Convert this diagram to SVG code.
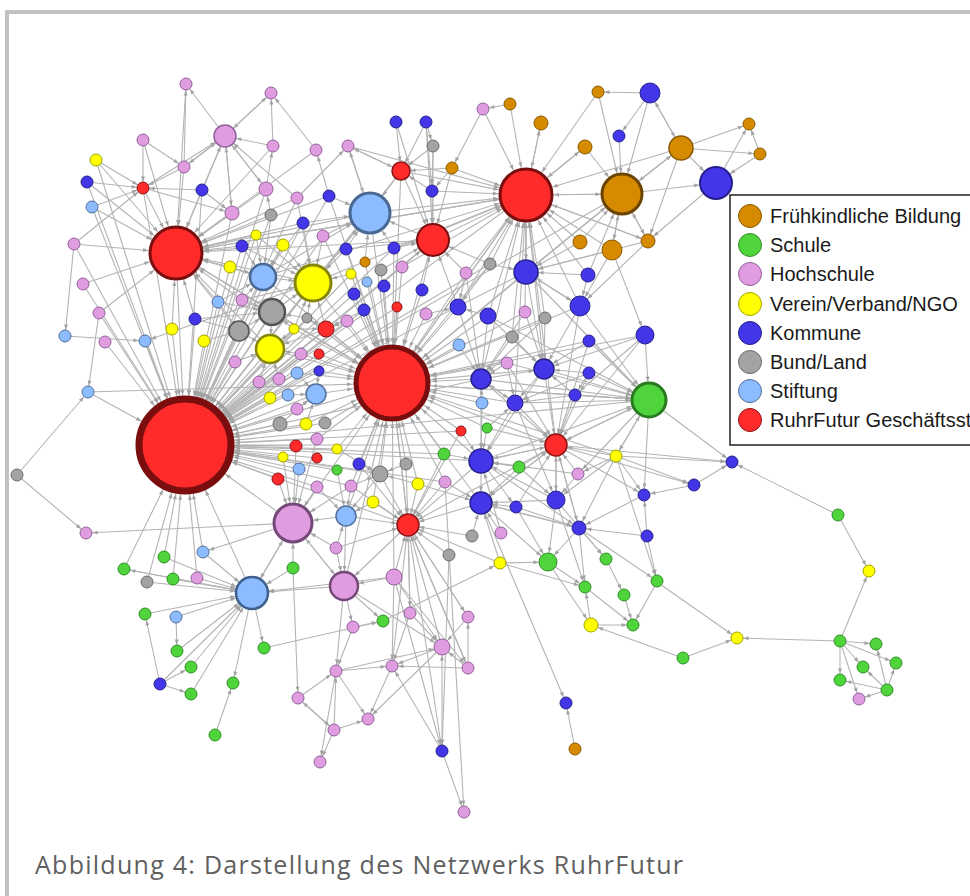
<svg xmlns="http://www.w3.org/2000/svg" width="970" height="896" viewBox="0 0 970 896">
<style>
#connectors line{stroke:#b4b4b4;stroke-width:1.1}
marker path{fill:#a2a2a2}
.r{fill:#ff2b2b;stroke:#8c1414;stroke-width:1}
.o{fill:#d68a00;stroke:#8a5800;stroke-width:1}
.g{fill:#4fd43c;stroke:#2f8f26;stroke-width:1}
.p{fill:#e09ce0;stroke:#93609a;stroke-width:1}
.y{fill:#ffff00;stroke:#a3a300;stroke-width:1}
.b{fill:#4236e8;stroke:#25208c;stroke-width:1}
.k{fill:#a3a3a3;stroke:#6c6c6c;stroke-width:1}
.l{fill:#8cbcff;stroke:#52709c;stroke-width:1}
.lt{font-family:"Liberation Sans",Arial,sans-serif;font-size:20px;fill:#1a1a1a}
</style>
<defs>
<marker id="t5" markerUnits="userSpaceOnUse" orient="auto" markerWidth="6" markerHeight="6" refX="10.5" refY="0" overflow="visible"><path d="M0-2L5 0L0 2z"/></marker>
<marker id="t6" markerUnits="userSpaceOnUse" orient="auto" markerWidth="6" markerHeight="6" refX="11.5" refY="0" overflow="visible"><path d="M0-2L5 0L0 2z"/></marker>
<marker id="t7" markerUnits="userSpaceOnUse" orient="auto" markerWidth="6" markerHeight="6" refX="12.5" refY="0" overflow="visible"><path d="M0-2L5 0L0 2z"/></marker>
<marker id="t8" markerUnits="userSpaceOnUse" orient="auto" markerWidth="6" markerHeight="6" refX="13.5" refY="0" overflow="visible"><path d="M0-2L5 0L0 2z"/></marker>
<marker id="t9" markerUnits="userSpaceOnUse" orient="auto" markerWidth="6" markerHeight="6" refX="14.5" refY="0" overflow="visible"><path d="M0-2L5 0L0 2z"/></marker>
<marker id="t10" markerUnits="userSpaceOnUse" orient="auto" markerWidth="6" markerHeight="6" refX="15.5" refY="0" overflow="visible"><path d="M0-2L5 0L0 2z"/></marker>
<marker id="t11" markerUnits="userSpaceOnUse" orient="auto" markerWidth="6" markerHeight="6" refX="16.5" refY="0" overflow="visible"><path d="M0-2L5 0L0 2z"/></marker>
<marker id="t12" markerUnits="userSpaceOnUse" orient="auto" markerWidth="6" markerHeight="6" refX="17.5" refY="0" overflow="visible"><path d="M0-2L5 0L0 2z"/></marker>
<marker id="t13" markerUnits="userSpaceOnUse" orient="auto" markerWidth="6" markerHeight="6" refX="19" refY="0" overflow="visible"><path d="M0-2L5 0L0 2z"/></marker>
<marker id="t14" markerUnits="userSpaceOnUse" orient="auto" markerWidth="6" markerHeight="6" refX="20" refY="0" overflow="visible"><path d="M0-2L5 0L0 2z"/></marker>
<marker id="t16" markerUnits="userSpaceOnUse" orient="auto" markerWidth="6" markerHeight="6" refX="22" refY="0" overflow="visible"><path d="M0-2L5 0L0 2z"/></marker>
<marker id="t17" markerUnits="userSpaceOnUse" orient="auto" markerWidth="6" markerHeight="6" refX="23.5" refY="0" overflow="visible"><path d="M0-2L5 0L0 2z"/></marker>
<marker id="t18" markerUnits="userSpaceOnUse" orient="auto" markerWidth="6" markerHeight="6" refX="24.5" refY="0" overflow="visible"><path d="M0-2L5 0L0 2z"/></marker>
<marker id="t19" markerUnits="userSpaceOnUse" orient="auto" markerWidth="6" markerHeight="6" refX="25.5" refY="0" overflow="visible"><path d="M0-2L5 0L0 2z"/></marker>
<marker id="t20" markerUnits="userSpaceOnUse" orient="auto" markerWidth="6" markerHeight="6" refX="26.5" refY="0" overflow="visible"><path d="M0-2L5 0L0 2z"/></marker>
<marker id="t26" markerUnits="userSpaceOnUse" orient="auto" markerWidth="6" markerHeight="6" refX="33" refY="0" overflow="visible"><path d="M0-2L5 0L0 2z"/></marker>
<marker id="t37" markerUnits="userSpaceOnUse" orient="auto" markerWidth="6" markerHeight="6" refX="45" refY="0" overflow="visible"><path d="M0-2L5 0L0 2z"/></marker>
<marker id="t47" markerUnits="userSpaceOnUse" orient="auto" markerWidth="6" markerHeight="6" refX="55" refY="0" overflow="visible"><path d="M0-2L5 0L0 2z"/></marker>
</defs>
<rect x="7" y="12" width="1000" height="1000" fill="#ffffff" stroke="#c2c2c2" stroke-width="4"/>

<g id="connectors">
<g style="marker-end:url(#t47)">
<line x1="99" y1="313" x2="185" y2="445"/><line x1="105" y1="342" x2="185" y2="445"/><line x1="145" y1="341" x2="185" y2="445"/><line x1="88" y1="392" x2="185" y2="445"/><line x1="172" y1="329" x2="185" y2="445"/><line x1="204" y1="341" x2="185" y2="445"/><line x1="195" y1="319" x2="185" y2="445"/><line x1="239" y1="331" x2="185" y2="445"/><line x1="235" y1="362" x2="185" y2="445"/><line x1="83" y1="284" x2="185" y2="445"/><line x1="218" y1="302" x2="185" y2="445"/><line x1="242" y1="300" x2="185" y2="445"/><line x1="176" y1="253" x2="185" y2="445"/><line x1="242" y1="246" x2="185" y2="445"/><line x1="230" y1="267" x2="185" y2="445"/><line x1="232" y1="213" x2="185" y2="445"/><line x1="202" y1="190" x2="185" y2="445"/><line x1="143" y1="188" x2="185" y2="445"/><line x1="96" y1="160" x2="185" y2="445"/><line x1="87" y1="182" x2="185" y2="445"/><line x1="92" y1="207" x2="185" y2="445"/><line x1="74" y1="244" x2="185" y2="445"/><line x1="263" y1="277" x2="185" y2="445"/><line x1="272" y1="312" x2="185" y2="445"/><line x1="270" y1="349" x2="185" y2="445"/><line x1="294" y1="329" x2="185" y2="445"/><line x1="326" y1="329" x2="185" y2="445"/><line x1="297" y1="373" x2="185" y2="445"/><line x1="288" y1="395" x2="185" y2="445"/><line x1="259" y1="382" x2="185" y2="445"/><line x1="279" y1="379" x2="185" y2="445"/><line x1="270" y1="398" x2="185" y2="445"/><line x1="280" y1="424" x2="185" y2="445"/><line x1="296" y1="446" x2="185" y2="445"/><line x1="283" y1="457" x2="185" y2="445"/><line x1="278" y1="479" x2="185" y2="445"/><line x1="297" y1="409" x2="185" y2="445"/><line x1="301" y1="354" x2="185" y2="445"/><line x1="316" y1="394" x2="185" y2="445"/><line x1="313" y1="283" x2="185" y2="445"/><line x1="392" y1="383" x2="185" y2="445"/><line x1="433" y1="240" x2="185" y2="445"/><line x1="526" y1="195" x2="185" y2="445"/><line x1="401" y1="171" x2="185" y2="445"/><line x1="370" y1="213" x2="185" y2="445"/><line x1="329" y1="196" x2="185" y2="445"/><line x1="303" y1="223" x2="185" y2="445"/><line x1="256" y1="235" x2="185" y2="445"/><line x1="283" y1="245" x2="185" y2="445"/><line x1="271" y1="215" x2="185" y2="445"/><line x1="266" y1="189" x2="185" y2="445"/><line x1="297" y1="198" x2="185" y2="445"/><line x1="164" y1="557" x2="185" y2="445"/><line x1="124" y1="569" x2="185" y2="445"/><line x1="173" y1="579" x2="185" y2="445"/><line x1="197" y1="578" x2="185" y2="445"/><line x1="203" y1="552" x2="185" y2="445"/><line x1="252" y1="593" x2="185" y2="445"/><line x1="147" y1="582" x2="185" y2="445"/><line x1="293" y1="523" x2="185" y2="445"/><line x1="317" y1="487" x2="185" y2="445"/><line x1="306" y1="424" x2="185" y2="445"/><line x1="317" y1="458" x2="185" y2="445"/><line x1="299" y1="469" x2="185" y2="445"/><line x1="325" y1="423" x2="185" y2="445"/><line x1="317" y1="439" x2="185" y2="445"/><line x1="319" y1="371" x2="185" y2="445"/><line x1="319" y1="354" x2="185" y2="445"/><line x1="337" y1="449" x2="185" y2="445"/><line x1="337" y1="470" x2="185" y2="445"/><line x1="556" y1="445" x2="185" y2="445"/><line x1="481" y1="379" x2="185" y2="445"/><line x1="461" y1="431" x2="185" y2="445"/><line x1="380" y1="474" x2="185" y2="445"/><line x1="408" y1="525" x2="185" y2="445"/><line x1="622" y1="194" x2="185" y2="445"/><line x1="526" y1="272" x2="185" y2="445"/><line x1="490" y1="264" x2="185" y2="445"/><line x1="402" y1="267" x2="185" y2="445"/><line x1="351" y1="274" x2="185" y2="445"/><line x1="354" y1="294" x2="185" y2="445"/><line x1="364" y1="310" x2="185" y2="445"/><line x1="347" y1="321" x2="185" y2="445"/><line x1="307" y1="318" x2="185" y2="445"/><line x1="397" y1="307" x2="185" y2="445"/><line x1="394" y1="248" x2="185" y2="445"/><line x1="323" y1="236" x2="185" y2="445"/><line x1="481" y1="461" x2="185" y2="445"/><line x1="649" y1="400" x2="185" y2="445"/><line x1="444" y1="454" x2="185" y2="445"/><line x1="351" y1="486" x2="185" y2="445"/><line x1="445" y1="482" x2="185" y2="445"/>
</g>
<g style="marker-end:url(#t37)">
<line x1="370" y1="213" x2="392" y2="383"/><line x1="433" y1="240" x2="392" y2="383"/><line x1="401" y1="171" x2="392" y2="383"/><line x1="526" y1="195" x2="392" y2="383"/><line x1="394" y1="248" x2="392" y2="383"/><line x1="381" y1="270" x2="392" y2="383"/><line x1="402" y1="267" x2="392" y2="383"/><line x1="384" y1="286" x2="392" y2="383"/><line x1="422" y1="290" x2="392" y2="383"/><line x1="397" y1="307" x2="392" y2="383"/><line x1="426" y1="314" x2="392" y2="383"/><line x1="364" y1="310" x2="392" y2="383"/><line x1="354" y1="294" x2="392" y2="383"/><line x1="367" y1="282" x2="392" y2="383"/><line x1="351" y1="274" x2="392" y2="383"/><line x1="365" y1="262" x2="392" y2="383"/><line x1="346" y1="249" x2="392" y2="383"/><line x1="313" y1="283" x2="392" y2="383"/><line x1="326" y1="329" x2="392" y2="383"/><line x1="347" y1="321" x2="392" y2="383"/><line x1="307" y1="318" x2="392" y2="383"/><line x1="263" y1="277" x2="392" y2="383"/><line x1="272" y1="312" x2="392" y2="383"/><line x1="270" y1="349" x2="392" y2="383"/><line x1="458" y1="307" x2="392" y2="383"/><line x1="488" y1="316" x2="392" y2="383"/><line x1="526" y1="272" x2="392" y2="383"/><line x1="490" y1="264" x2="392" y2="383"/><line x1="466" y1="273" x2="392" y2="383"/><line x1="459" y1="345" x2="392" y2="383"/><line x1="481" y1="379" x2="392" y2="383"/><line x1="482" y1="403" x2="392" y2="383"/><line x1="544" y1="369" x2="392" y2="383"/><line x1="556" y1="445" x2="392" y2="383"/><line x1="461" y1="431" x2="392" y2="383"/><line x1="487" y1="428" x2="392" y2="383"/><line x1="444" y1="454" x2="392" y2="383"/><line x1="481" y1="461" x2="392" y2="383"/><line x1="406" y1="464" x2="392" y2="383"/><line x1="380" y1="474" x2="392" y2="383"/><line x1="418" y1="484" x2="392" y2="383"/><line x1="445" y1="482" x2="392" y2="383"/><line x1="408" y1="525" x2="392" y2="383"/><line x1="373" y1="502" x2="392" y2="383"/><line x1="351" y1="486" x2="392" y2="383"/><line x1="359" y1="464" x2="392" y2="383"/><line x1="337" y1="449" x2="392" y2="383"/><line x1="325" y1="423" x2="392" y2="383"/><line x1="316" y1="394" x2="392" y2="383"/><line x1="319" y1="371" x2="392" y2="383"/><line x1="301" y1="354" x2="392" y2="383"/><line x1="319" y1="354" x2="392" y2="383"/><line x1="346" y1="516" x2="392" y2="383"/><line x1="293" y1="523" x2="392" y2="383"/><line x1="344" y1="586" x2="392" y2="383"/><line x1="394" y1="577" x2="392" y2="383"/><line x1="649" y1="400" x2="392" y2="383"/><line x1="580" y1="306" x2="392" y2="383"/><line x1="622" y1="194" x2="392" y2="383"/><line x1="525" y1="312" x2="392" y2="383"/><line x1="545" y1="318" x2="392" y2="383"/><line x1="515" y1="403" x2="392" y2="383"/><line x1="481" y1="503" x2="392" y2="383"/><line x1="294" y1="329" x2="392" y2="383"/><line x1="297" y1="373" x2="392" y2="383"/><line x1="88" y1="392" x2="392" y2="383"/><line x1="176" y1="253" x2="392" y2="383"/><line x1="323" y1="236" x2="392" y2="383"/><line x1="329" y1="196" x2="392" y2="383"/><line x1="507" y1="363" x2="392" y2="383"/><line x1="589" y1="341" x2="392" y2="383"/><line x1="645" y1="335" x2="392" y2="383"/><line x1="616" y1="456" x2="392" y2="383"/><line x1="317" y1="439" x2="392" y2="383"/><line x1="306" y1="424" x2="392" y2="383"/>
</g>
<g style="marker-end:url(#t26)">
<line x1="225" y1="136" x2="176" y2="253"/><line x1="186" y1="84" x2="176" y2="253"/><line x1="143" y1="140" x2="176" y2="253"/><line x1="184" y1="167" x2="176" y2="253"/><line x1="96" y1="160" x2="176" y2="253"/><line x1="87" y1="182" x2="176" y2="253"/><line x1="143" y1="188" x2="176" y2="253"/><line x1="92" y1="207" x2="176" y2="253"/><line x1="202" y1="190" x2="176" y2="253"/><line x1="232" y1="213" x2="176" y2="253"/><line x1="74" y1="244" x2="176" y2="253"/><line x1="83" y1="284" x2="176" y2="253"/><line x1="266" y1="189" x2="176" y2="253"/><line x1="271" y1="215" x2="176" y2="253"/><line x1="256" y1="235" x2="176" y2="253"/><line x1="242" y1="246" x2="176" y2="253"/><line x1="230" y1="267" x2="176" y2="253"/><line x1="263" y1="277" x2="176" y2="253"/><line x1="283" y1="245" x2="176" y2="253"/><line x1="273" y1="146" x2="176" y2="253"/><line x1="297" y1="198" x2="176" y2="253"/><line x1="303" y1="223" x2="176" y2="253"/><line x1="313" y1="283" x2="176" y2="253"/><line x1="242" y1="300" x2="176" y2="253"/><line x1="218" y1="302" x2="176" y2="253"/><line x1="195" y1="319" x2="176" y2="253"/><line x1="172" y1="329" x2="176" y2="253"/><line x1="99" y1="313" x2="176" y2="253"/><line x1="370" y1="213" x2="176" y2="253"/><line x1="433" y1="240" x2="176" y2="253"/><line x1="526" y1="195" x2="176" y2="253"/><line x1="270" y1="349" x2="176" y2="253"/><line x1="239" y1="331" x2="176" y2="253"/><line x1="329" y1="196" x2="176" y2="253"/><line x1="316" y1="150" x2="176" y2="253"/><line x1="272" y1="312" x2="176" y2="253"/>
</g>
<g style="marker-end:url(#t26)">
<line x1="510" y1="104" x2="526" y2="195"/><line x1="541" y1="123" x2="526" y2="195"/><line x1="598" y1="92" x2="526" y2="195"/><line x1="483" y1="109" x2="526" y2="195"/><line x1="585" y1="147" x2="526" y2="195"/><line x1="622" y1="194" x2="526" y2="195"/><line x1="452" y1="168" x2="526" y2="195"/><line x1="433" y1="240" x2="526" y2="195"/><line x1="401" y1="171" x2="526" y2="195"/><line x1="370" y1="213" x2="526" y2="195"/><line x1="526" y1="272" x2="526" y2="195"/><line x1="490" y1="264" x2="526" y2="195"/><line x1="466" y1="273" x2="526" y2="195"/><line x1="588" y1="275" x2="526" y2="195"/><line x1="612" y1="250" x2="526" y2="195"/><line x1="580" y1="242" x2="526" y2="195"/><line x1="648" y1="241" x2="526" y2="195"/><line x1="458" y1="307" x2="526" y2="195"/><line x1="488" y1="316" x2="526" y2="195"/><line x1="402" y1="267" x2="526" y2="195"/><line x1="394" y1="248" x2="526" y2="195"/><line x1="313" y1="283" x2="526" y2="195"/><line x1="263" y1="277" x2="526" y2="195"/><line x1="176" y1="253" x2="526" y2="195"/><line x1="580" y1="306" x2="526" y2="195"/><line x1="525" y1="312" x2="526" y2="195"/><line x1="545" y1="318" x2="526" y2="195"/><line x1="544" y1="369" x2="526" y2="195"/><line x1="556" y1="445" x2="526" y2="195"/><line x1="515" y1="403" x2="526" y2="195"/><line x1="681" y1="148" x2="526" y2="195"/><line x1="512" y1="337" x2="526" y2="195"/><line x1="481" y1="379" x2="526" y2="195"/><line x1="432" y1="191" x2="526" y2="195"/><line x1="348" y1="146" x2="526" y2="195"/><line x1="392" y1="383" x2="526" y2="195"/>
</g>
<g style="marker-end:url(#t20)">
<line x1="650" y1="93" x2="622" y2="194"/><line x1="619" y1="136" x2="622" y2="194"/><line x1="681" y1="148" x2="622" y2="194"/><line x1="612" y1="250" x2="622" y2="194"/><line x1="648" y1="241" x2="622" y2="194"/><line x1="526" y1="195" x2="622" y2="194"/><line x1="585" y1="147" x2="622" y2="194"/><line x1="580" y1="242" x2="622" y2="194"/><line x1="588" y1="275" x2="622" y2="194"/><line x1="526" y1="272" x2="622" y2="194"/><line x1="598" y1="92" x2="622" y2="194"/>
<line x1="329" y1="196" x2="370" y2="213"/><line x1="303" y1="223" x2="370" y2="213"/><line x1="323" y1="236" x2="370" y2="213"/><line x1="346" y1="249" x2="370" y2="213"/><line x1="348" y1="146" x2="370" y2="213"/><line x1="401" y1="171" x2="370" y2="213"/><line x1="394" y1="248" x2="370" y2="213"/><line x1="433" y1="240" x2="370" y2="213"/><line x1="313" y1="283" x2="370" y2="213"/><line x1="263" y1="277" x2="370" y2="213"/><line x1="365" y1="262" x2="370" y2="213"/>
</g>
<g style="marker-end:url(#t19)">
<line x1="317" y1="487" x2="293" y2="523"/><line x1="278" y1="479" x2="293" y2="523"/><line x1="299" y1="469" x2="293" y2="523"/><line x1="336" y1="548" x2="293" y2="523"/><line x1="346" y1="516" x2="293" y2="523"/><line x1="293" y1="568" x2="293" y2="523"/><line x1="283" y1="457" x2="293" y2="523"/><line x1="252" y1="593" x2="293" y2="523"/><line x1="344" y1="586" x2="293" y2="523"/><line x1="317" y1="439" x2="293" y2="523"/><line x1="296" y1="446" x2="293" y2="523"/><line x1="351" y1="486" x2="293" y2="523"/>
</g>
<g style="marker-end:url(#t18)">
<line x1="323" y1="236" x2="313" y2="283"/><line x1="283" y1="245" x2="313" y2="283"/><line x1="263" y1="277" x2="313" y2="283"/><line x1="303" y1="223" x2="313" y2="283"/><line x1="297" y1="198" x2="313" y2="283"/><line x1="256" y1="235" x2="313" y2="283"/><line x1="242" y1="246" x2="313" y2="283"/><line x1="272" y1="312" x2="313" y2="283"/><line x1="307" y1="318" x2="313" y2="283"/><line x1="294" y1="329" x2="313" y2="283"/><line x1="326" y1="329" x2="313" y2="283"/><line x1="351" y1="274" x2="313" y2="283"/><line x1="346" y1="249" x2="313" y2="283"/><line x1="242" y1="300" x2="313" y2="283"/>
</g>
<g style="marker-end:url(#t17)">
<line x1="645" y1="335" x2="649" y2="400"/><line x1="556" y1="445" x2="649" y2="400"/><line x1="544" y1="369" x2="649" y2="400"/><line x1="481" y1="379" x2="649" y2="400"/><line x1="616" y1="456" x2="649" y2="400"/><line x1="515" y1="403" x2="649" y2="400"/><line x1="589" y1="373" x2="649" y2="400"/><line x1="575" y1="395" x2="649" y2="400"/><line x1="589" y1="341" x2="649" y2="400"/><line x1="488" y1="316" x2="649" y2="400"/><line x1="507" y1="363" x2="649" y2="400"/><line x1="526" y1="272" x2="649" y2="400"/><line x1="580" y1="306" x2="649" y2="400"/><line x1="392" y1="383" x2="649" y2="400"/><line x1="481" y1="461" x2="649" y2="400"/>
</g>
<g style="marker-end:url(#t16)">
<line x1="622" y1="194" x2="716" y2="183"/><line x1="681" y1="148" x2="716" y2="183"/><line x1="760" y1="154" x2="716" y2="183"/>
<line x1="401" y1="171" x2="433" y2="240"/><line x1="432" y1="191" x2="433" y2="240"/><line x1="433" y1="146" x2="433" y2="240"/><line x1="396" y1="122" x2="433" y2="240"/><line x1="426" y1="122" x2="433" y2="240"/><line x1="452" y1="168" x2="433" y2="240"/><line x1="394" y1="248" x2="433" y2="240"/><line x1="402" y1="267" x2="433" y2="240"/><line x1="422" y1="290" x2="433" y2="240"/><line x1="466" y1="273" x2="433" y2="240"/><line x1="490" y1="264" x2="433" y2="240"/><line x1="458" y1="307" x2="433" y2="240"/><line x1="381" y1="270" x2="433" y2="240"/><line x1="346" y1="249" x2="433" y2="240"/>
<line x1="344" y1="586" x2="252" y2="593"/><line x1="293" y1="523" x2="252" y2="593"/><line x1="164" y1="557" x2="252" y2="593"/><line x1="124" y1="569" x2="252" y2="593"/><line x1="173" y1="579" x2="252" y2="593"/><line x1="197" y1="578" x2="252" y2="593"/><line x1="147" y1="582" x2="252" y2="593"/><line x1="145" y1="614" x2="252" y2="593"/><line x1="176" y1="617" x2="252" y2="593"/><line x1="177" y1="651" x2="252" y2="593"/><line x1="191" y1="667" x2="252" y2="593"/><line x1="191" y1="694" x2="252" y2="593"/><line x1="160" y1="684" x2="252" y2="593"/><line x1="293" y1="568" x2="252" y2="593"/><line x1="203" y1="552" x2="252" y2="593"/><line x1="394" y1="577" x2="252" y2="593"/>
</g>
<g style="marker-end:url(#t14)">
<line x1="239" y1="331" x2="270" y2="349"/><line x1="272" y1="312" x2="270" y2="349"/><line x1="294" y1="329" x2="270" y2="349"/><line x1="301" y1="354" x2="270" y2="349"/><line x1="235" y1="362" x2="270" y2="349"/><line x1="259" y1="382" x2="270" y2="349"/><line x1="279" y1="379" x2="270" y2="349"/><line x1="326" y1="329" x2="270" y2="349"/>
<line x1="394" y1="577" x2="344" y2="586"/><line x1="336" y1="548" x2="344" y2="586"/><line x1="293" y1="523" x2="344" y2="586"/><line x1="346" y1="516" x2="344" y2="586"/><line x1="408" y1="525" x2="344" y2="586"/>
</g>
<g style="marker-end:url(#t13)">
<line x1="283" y1="245" x2="263" y2="277"/><line x1="242" y1="246" x2="263" y2="277"/><line x1="256" y1="235" x2="263" y2="277"/><line x1="230" y1="267" x2="263" y2="277"/><line x1="271" y1="215" x2="263" y2="277"/><line x1="242" y1="300" x2="263" y2="277"/><line x1="218" y1="302" x2="263" y2="277"/><line x1="303" y1="223" x2="263" y2="277"/>
<line x1="242" y1="300" x2="272" y2="312"/><line x1="294" y1="329" x2="272" y2="312"/><line x1="307" y1="318" x2="272" y2="312"/><line x1="218" y1="302" x2="272" y2="312"/><line x1="239" y1="331" x2="272" y2="312"/><line x1="195" y1="319" x2="272" y2="312"/>
</g>
<g style="marker-end:url(#t12)">
<line x1="526" y1="195" x2="526" y2="272"/><line x1="612" y1="250" x2="526" y2="272"/><line x1="648" y1="241" x2="526" y2="272"/><line x1="580" y1="242" x2="526" y2="272"/><line x1="588" y1="275" x2="526" y2="272"/><line x1="580" y1="306" x2="526" y2="272"/><line x1="490" y1="264" x2="526" y2="272"/>
<line x1="481" y1="379" x2="481" y2="461"/><line x1="515" y1="403" x2="481" y2="461"/><line x1="556" y1="445" x2="481" y2="461"/><line x1="519" y1="467" x2="481" y2="461"/><line x1="482" y1="403" x2="481" y2="461"/><line x1="461" y1="431" x2="481" y2="461"/><line x1="444" y1="454" x2="481" y2="461"/><line x1="487" y1="428" x2="481" y2="461"/><line x1="556" y1="500" x2="481" y2="461"/><line x1="578" y1="474" x2="481" y2="461"/><line x1="501" y1="533" x2="481" y2="461"/><line x1="544" y1="369" x2="481" y2="461"/>
<line x1="650" y1="93" x2="681" y2="148"/><line x1="622" y1="194" x2="681" y2="148"/>
</g>
<g style="marker-end:url(#t11)">
<line x1="649" y1="400" x2="556" y2="445"/><line x1="544" y1="369" x2="556" y2="445"/><line x1="481" y1="379" x2="556" y2="445"/><line x1="515" y1="403" x2="556" y2="445"/><line x1="616" y1="456" x2="556" y2="445"/><line x1="578" y1="474" x2="556" y2="445"/><line x1="556" y1="500" x2="556" y2="445"/><line x1="516" y1="507" x2="556" y2="445"/><line x1="519" y1="467" x2="556" y2="445"/><line x1="481" y1="461" x2="556" y2="445"/><line x1="481" y1="503" x2="556" y2="445"/><line x1="575" y1="395" x2="556" y2="445"/><line x1="589" y1="373" x2="556" y2="445"/><line x1="645" y1="335" x2="556" y2="445"/><line x1="507" y1="363" x2="556" y2="445"/><line x1="487" y1="428" x2="556" y2="445"/><line x1="579" y1="528" x2="556" y2="445"/><line x1="589" y1="341" x2="556" y2="445"/><line x1="580" y1="306" x2="556" y2="445"/>
<line x1="380" y1="474" x2="408" y2="525"/><line x1="406" y1="464" x2="408" y2="525"/><line x1="418" y1="484" x2="408" y2="525"/><line x1="445" y1="482" x2="408" y2="525"/><line x1="373" y1="502" x2="408" y2="525"/><line x1="351" y1="486" x2="408" y2="525"/><line x1="359" y1="464" x2="408" y2="525"/><line x1="346" y1="516" x2="408" y2="525"/><line x1="394" y1="577" x2="408" y2="525"/><line x1="442" y1="647" x2="408" y2="525"/><line x1="468" y1="617" x2="408" y2="525"/><line x1="410" y1="613" x2="408" y2="525"/><line x1="449" y1="555" x2="408" y2="525"/><line x1="472" y1="536" x2="408" y2="525"/><line x1="481" y1="503" x2="408" y2="525"/><line x1="481" y1="461" x2="408" y2="525"/><line x1="500" y1="563" x2="408" y2="525"/><line x1="444" y1="454" x2="408" y2="525"/><line x1="392" y1="383" x2="408" y2="525"/><line x1="461" y1="431" x2="408" y2="525"/><line x1="556" y1="445" x2="408" y2="525"/><line x1="468" y1="668" x2="408" y2="525"/><line x1="392" y1="666" x2="408" y2="525"/><line x1="336" y1="548" x2="408" y2="525"/>
<line x1="481" y1="461" x2="481" y2="503"/><line x1="516" y1="507" x2="481" y2="503"/><line x1="556" y1="500" x2="481" y2="503"/><line x1="501" y1="533" x2="481" y2="503"/><line x1="445" y1="482" x2="481" y2="503"/><line x1="519" y1="467" x2="481" y2="503"/><line x1="472" y1="536" x2="481" y2="503"/><line x1="556" y1="445" x2="481" y2="503"/><line x1="418" y1="484" x2="481" y2="503"/><line x1="579" y1="528" x2="481" y2="503"/><line x1="500" y1="563" x2="481" y2="503"/>
<line x1="184" y1="167" x2="225" y2="136"/><line x1="232" y1="213" x2="225" y2="136"/><line x1="273" y1="146" x2="225" y2="136"/><line x1="271" y1="93" x2="225" y2="136"/><line x1="297" y1="198" x2="225" y2="136"/><line x1="266" y1="189" x2="225" y2="136"/><line x1="202" y1="190" x2="225" y2="136"/><line x1="143" y1="188" x2="225" y2="136"/>
</g>
<g style="marker-end:url(#t10)">
<line x1="526" y1="272" x2="544" y2="369"/><line x1="580" y1="306" x2="544" y2="369"/><line x1="589" y1="341" x2="544" y2="369"/><line x1="488" y1="316" x2="544" y2="369"/><line x1="545" y1="318" x2="544" y2="369"/><line x1="512" y1="337" x2="544" y2="369"/><line x1="525" y1="312" x2="544" y2="369"/><line x1="589" y1="373" x2="544" y2="369"/><line x1="575" y1="395" x2="544" y2="369"/><line x1="645" y1="335" x2="544" y2="369"/><line x1="481" y1="379" x2="544" y2="369"/>
<line x1="458" y1="307" x2="481" y2="379"/><line x1="488" y1="316" x2="481" y2="379"/><line x1="512" y1="337" x2="481" y2="379"/><line x1="507" y1="363" x2="481" y2="379"/><line x1="459" y1="345" x2="481" y2="379"/><line x1="482" y1="403" x2="481" y2="379"/><line x1="525" y1="312" x2="481" y2="379"/><line x1="545" y1="318" x2="481" y2="379"/><line x1="515" y1="403" x2="481" y2="379"/><line x1="466" y1="273" x2="481" y2="379"/>
<line x1="612" y1="250" x2="580" y2="306"/><line x1="526" y1="272" x2="580" y2="306"/><line x1="588" y1="275" x2="580" y2="306"/><line x1="648" y1="241" x2="580" y2="306"/>
<line x1="297" y1="373" x2="316" y2="394"/><line x1="288" y1="395" x2="316" y2="394"/><line x1="297" y1="409" x2="316" y2="394"/><line x1="319" y1="371" x2="316" y2="394"/><line x1="280" y1="424" x2="316" y2="394"/><line x1="306" y1="424" x2="316" y2="394"/>
<line x1="351" y1="486" x2="346" y2="516"/><line x1="373" y1="502" x2="346" y2="516"/><line x1="380" y1="474" x2="346" y2="516"/><line x1="336" y1="548" x2="346" y2="516"/><line x1="317" y1="487" x2="346" y2="516"/><line x1="337" y1="470" x2="346" y2="516"/>
<line x1="622" y1="194" x2="612" y2="250"/><line x1="681" y1="148" x2="650" y2="93"/>
</g>
<g style="marker-end:url(#t9)">
<line x1="579" y1="528" x2="548" y2="562"/><line x1="556" y1="500" x2="548" y2="562"/><line x1="481" y1="503" x2="548" y2="562"/><line x1="516" y1="507" x2="548" y2="562"/><line x1="500" y1="563" x2="548" y2="562"/>
<line x1="556" y1="445" x2="556" y2="500"/><line x1="578" y1="474" x2="556" y2="500"/><line x1="519" y1="467" x2="556" y2="500"/><line x1="616" y1="456" x2="556" y2="500"/><line x1="515" y1="403" x2="556" y2="500"/>
<line x1="612" y1="250" x2="645" y2="335"/>
<line x1="396" y1="122" x2="401" y2="171"/><line x1="426" y1="122" x2="401" y2="171"/><line x1="433" y1="146" x2="401" y2="171"/><line x1="348" y1="146" x2="401" y2="171"/><line x1="432" y1="191" x2="401" y2="171"/><line x1="452" y1="168" x2="401" y2="171"/>
</g>
<g style="marker-end:url(#t8)">
<line x1="544" y1="369" x2="515" y2="403"/><line x1="507" y1="363" x2="515" y2="403"/><line x1="575" y1="395" x2="515" y2="403"/><line x1="481" y1="379" x2="515" y2="403"/><line x1="589" y1="373" x2="515" y2="403"/><line x1="487" y1="428" x2="515" y2="403"/>
<line x1="336" y1="671" x2="442" y2="647"/><line x1="468" y1="668" x2="442" y2="647"/><line x1="394" y1="577" x2="442" y2="647"/><line x1="344" y1="586" x2="442" y2="647"/><line x1="442" y1="751" x2="442" y2="647"/><line x1="410" y1="613" x2="442" y2="647"/><line x1="468" y1="617" x2="442" y2="647"/>
<line x1="307" y1="318" x2="326" y2="329"/><line x1="347" y1="321" x2="326" y2="329"/><line x1="294" y1="329" x2="326" y2="329"/><line x1="364" y1="310" x2="326" y2="329"/>
<line x1="490" y1="264" x2="458" y2="307"/><line x1="466" y1="273" x2="458" y2="307"/><line x1="426" y1="314" x2="458" y2="307"/><line x1="488" y1="316" x2="458" y2="307"/>
<line x1="359" y1="464" x2="380" y2="474"/><line x1="406" y1="464" x2="380" y2="474"/><line x1="337" y1="449" x2="380" y2="474"/><line x1="351" y1="486" x2="380" y2="474"/><line x1="418" y1="484" x2="380" y2="474"/>
</g>
<g style="marker-end:url(#t7)">
<line x1="683" y1="658" x2="591" y2="625"/><line x1="548" y1="562" x2="591" y2="625"/>
<line x1="647" y1="536" x2="579" y2="528"/><line x1="616" y1="456" x2="579" y2="528"/><line x1="556" y1="445" x2="579" y2="528"/><line x1="516" y1="507" x2="579" y2="528"/><line x1="481" y1="503" x2="579" y2="528"/><line x1="644" y1="495" x2="579" y2="528"/><line x1="481" y1="461" x2="579" y2="528"/>
<line x1="716" y1="183" x2="648" y2="241"/><line x1="622" y1="194" x2="648" y2="241"/><line x1="681" y1="148" x2="648" y2="241"/><line x1="526" y1="195" x2="648" y2="241"/>
<line x1="526" y1="195" x2="541" y2="123"/><line x1="526" y1="195" x2="585" y2="147"/>
<line x1="225" y1="136" x2="266" y2="189"/><line x1="271" y1="215" x2="266" y2="189"/>
<line x1="143" y1="188" x2="232" y2="213"/><line x1="225" y1="136" x2="232" y2="213"/><line x1="202" y1="190" x2="232" y2="213"/>
</g>
<g style="marker-end:url(#t6)">
<line x1="649" y1="400" x2="732" y2="462"/><line x1="838" y1="515" x2="732" y2="462"/><line x1="616" y1="456" x2="732" y2="462"/><line x1="694" y1="485" x2="732" y2="462"/><line x1="556" y1="445" x2="732" y2="462"/>
<line x1="649" y1="400" x2="644" y2="495"/><line x1="694" y1="485" x2="644" y2="495"/><line x1="647" y1="536" x2="644" y2="495"/><line x1="556" y1="445" x2="644" y2="495"/><line x1="616" y1="456" x2="644" y2="495"/>
<line x1="616" y1="456" x2="694" y2="485"/><line x1="556" y1="445" x2="694" y2="485"/>
<line x1="838" y1="515" x2="869" y2="571"/><line x1="840" y1="641" x2="869" y2="571"/>
<line x1="840" y1="641" x2="737" y2="638"/><line x1="683" y1="658" x2="737" y2="638"/><line x1="657" y1="582" x2="737" y2="638"/>
<line x1="840" y1="641" x2="876" y2="644"/><line x1="887" y1="690" x2="876" y2="644"/>
<line x1="840" y1="641" x2="896" y2="663"/><line x1="887" y1="690" x2="896" y2="663"/>
<line x1="840" y1="641" x2="863" y2="667"/><line x1="887" y1="690" x2="863" y2="667"/>
<line x1="840" y1="641" x2="840" y2="680"/><line x1="887" y1="690" x2="840" y2="680"/>
<line x1="840" y1="641" x2="859" y2="699"/><line x1="887" y1="690" x2="859" y2="699"/>
<line x1="591" y1="625" x2="633" y2="625"/><line x1="624" y1="595" x2="633" y2="625"/><line x1="657" y1="582" x2="633" y2="625"/><line x1="585" y1="587" x2="633" y2="625"/>
<line x1="591" y1="625" x2="585" y2="587"/><line x1="548" y1="562" x2="585" y2="587"/><line x1="556" y1="500" x2="585" y2="587"/><line x1="579" y1="528" x2="585" y2="587"/><line x1="500" y1="563" x2="585" y2="587"/>
<line x1="606" y1="559" x2="624" y2="595"/>
<line x1="579" y1="528" x2="606" y2="559"/><line x1="556" y1="500" x2="606" y2="559"/>
<line x1="647" y1="536" x2="657" y2="581"/><line x1="579" y1="528" x2="657" y2="581"/><line x1="616" y1="456" x2="657" y2="581"/>
<line x1="575" y1="749" x2="566" y2="703"/><line x1="481" y1="503" x2="566" y2="703"/>
<line x1="645" y1="335" x2="575" y2="395"/><line x1="589" y1="373" x2="575" y2="395"/>
<line x1="616" y1="456" x2="578" y2="474"/><line x1="649" y1="400" x2="578" y2="474"/>
<line x1="481" y1="461" x2="516" y2="507"/>
<line x1="649" y1="400" x2="616" y2="456"/>
<line x1="681" y1="148" x2="749" y2="124"/><line x1="716" y1="183" x2="749" y2="124"/><line x1="760" y1="154" x2="749" y2="124"/>
<line x1="681" y1="148" x2="760" y2="154"/>
<line x1="650" y1="93" x2="598" y2="92"/><line x1="650" y1="93" x2="619" y2="136"/><line x1="510" y1="104" x2="483" y2="109"/><line x1="483" y1="109" x2="452" y2="168"/>
<line x1="433" y1="146" x2="432" y2="191"/><line x1="426" y1="122" x2="432" y2="191"/><line x1="452" y1="168" x2="432" y2="191"/><line x1="426" y1="122" x2="433" y2="146"/>
<line x1="252" y1="593" x2="233" y2="683"/><line x1="215" y1="735" x2="233" y2="683"/>
<line x1="252" y1="593" x2="264" y2="648"/>
<line x1="264" y1="648" x2="383" y2="621"/><line x1="344" y1="586" x2="383" y2="621"/><line x1="353" y1="627" x2="383" y2="621"/>
<line x1="383" y1="621" x2="500" y2="563"/>
<line x1="293" y1="523" x2="203" y2="552"/>
<line x1="293" y1="523" x2="86" y2="533"/><line x1="17" y1="475" x2="86" y2="533"/>
<line x1="17" y1="475" x2="88" y2="392"/><line x1="99" y1="313" x2="88" y2="392"/>
<line x1="65" y1="336" x2="145" y2="341"/><line x1="313" y1="283" x2="145" y2="341"/>
<line x1="74" y1="244" x2="65" y2="336"/>
<line x1="176" y1="617" x2="177" y2="651"/><line x1="160" y1="684" x2="145" y2="614"/><line x1="160" y1="684" x2="191" y2="667"/><line x1="160" y1="684" x2="191" y2="694"/><line x1="252" y1="593" x2="124" y2="569"/>
<line x1="336" y1="671" x2="392" y2="666"/><line x1="468" y1="668" x2="392" y2="666"/><line x1="442" y1="647" x2="392" y2="666"/><line x1="442" y1="751" x2="392" y2="666"/><line x1="410" y1="613" x2="392" y2="666"/><line x1="394" y1="577" x2="392" y2="666"/>
<line x1="298" y1="698" x2="336" y2="671"/><line x1="344" y1="586" x2="336" y2="671"/><line x1="334" y1="730" x2="336" y2="671"/><line x1="353" y1="627" x2="336" y2="671"/>
<line x1="336" y1="671" x2="368" y2="719"/><line x1="442" y1="647" x2="368" y2="719"/><line x1="334" y1="730" x2="368" y2="719"/><line x1="392" y1="666" x2="368" y2="719"/>
<line x1="334" y1="730" x2="320" y2="762"/><line x1="336" y1="671" x2="320" y2="762"/>
<line x1="293" y1="568" x2="298" y2="698"/><line x1="334" y1="730" x2="298" y2="698"/>
<line x1="298" y1="698" x2="334" y2="730"/>
<line x1="468" y1="668" x2="468" y2="617"/><line x1="408" y1="525" x2="468" y2="617"/>
<line x1="394" y1="577" x2="468" y2="668"/><line x1="408" y1="525" x2="468" y2="668"/>
<line x1="408" y1="525" x2="410" y2="613"/>
<line x1="408" y1="525" x2="442" y2="751"/><line x1="394" y1="577" x2="442" y2="751"/><line x1="449" y1="555" x2="442" y2="751"/>
<line x1="442" y1="751" x2="464" y2="812"/><line x1="445" y1="482" x2="464" y2="812"/>
<line x1="344" y1="586" x2="353" y2="627"/>
<line x1="225" y1="136" x2="186" y2="84"/><line x1="184" y1="167" x2="186" y2="84"/>
<line x1="225" y1="136" x2="184" y2="167"/><line x1="143" y1="140" x2="184" y2="167"/>
<line x1="143" y1="140" x2="143" y2="188"/><line x1="96" y1="160" x2="143" y2="188"/><line x1="87" y1="182" x2="143" y2="188"/><line x1="92" y1="207" x2="143" y2="188"/><line x1="74" y1="244" x2="143" y2="188"/><line x1="184" y1="167" x2="143" y2="188"/><line x1="202" y1="190" x2="143" y2="188"/>
<line x1="273" y1="146" x2="271" y2="93"/><line x1="316" y1="150" x2="271" y2="93"/><line x1="225" y1="136" x2="271" y2="93"/>
<line x1="266" y1="189" x2="273" y2="146"/>
<line x1="401" y1="171" x2="348" y2="146"/><line x1="370" y1="213" x2="348" y2="146"/><line x1="297" y1="198" x2="348" y2="146"/>
<line x1="329" y1="196" x2="316" y2="150"/>
<line x1="218" y1="302" x2="239" y2="331"/><line x1="204" y1="341" x2="239" y2="331"/><line x1="195" y1="319" x2="239" y2="331"/>
</g>
</g>

<g id="nodes">
<g id="n-p1"><circle class="p" cx="186" cy="84" r="6"/></g>
<g id="n-p2"><circle class="p" cx="225" cy="136" r="11" style="stroke-width:1.5"/></g>
<g id="n-p3"><circle class="p" cx="143" cy="140" r="6"/></g>
<g id="n-p4"><circle class="p" cx="184" cy="167" r="6"/></g>
<g id="n-p5"><circle class="p" cx="271" cy="93" r="6"/></g>
<g id="n-p6"><circle class="p" cx="273" cy="146" r="6"/></g>
<g id="n-p7"><circle class="p" cx="316" cy="150" r="6"/></g>
<g id="n-p8"><circle class="p" cx="348" cy="146" r="6"/></g>
<g id="n-p9"><circle class="p" cx="483" cy="109" r="6"/></g>
<g id="n-p10"><circle class="p" cx="266" cy="189" r="7"/></g>
<g id="n-p11"><circle class="p" cx="297" cy="198" r="6"/></g>
<g id="n-p12"><circle class="p" cx="232" cy="213" r="7"/></g>
<g id="n-p13"><circle class="p" cx="323" cy="236" r="6"/></g>
<g id="n-p14"><circle class="p" cx="74" cy="244" r="6"/></g>
<g id="n-p15"><circle class="p" cx="83" cy="284" r="6"/></g>
<g id="n-p16"><circle class="p" cx="242" cy="300" r="6"/></g>
<g id="n-p17"><circle class="p" cx="99" cy="313" r="6"/></g>
<g id="n-p18"><circle class="p" cx="105" cy="342" r="6"/></g>
<g id="n-p19"><circle class="p" cx="235" cy="362" r="6"/></g>
<g id="n-p20"><circle class="p" cx="402" cy="267" r="6"/></g>
<g id="n-p21"><circle class="p" cx="466" cy="273" r="6"/></g>
<g id="n-p22"><circle class="p" cx="426" cy="314" r="6"/></g>
<g id="n-p23"><circle class="p" cx="347" cy="321" r="6"/></g>
<g id="n-p24"><circle class="p" cx="525" cy="312" r="6"/></g>
<g id="n-p25"><circle class="p" cx="507" cy="363" r="6"/></g>
<g id="n-p26"><circle class="p" cx="301" cy="354" r="6"/></g>
<g id="n-p27"><circle class="p" cx="259" cy="382" r="6"/></g>
<g id="n-p28"><circle class="p" cx="279" cy="379" r="6"/></g>
<g id="n-p29"><circle class="p" cx="297" cy="409" r="6"/></g>
<g id="n-p30"><circle class="p" cx="317" cy="439" r="6"/></g>
<g id="n-p31"><circle class="p" cx="317" cy="487" r="6"/></g>
<g id="n-p32"><circle class="p" cx="351" cy="486" r="6"/></g>
<g id="n-p33"><circle class="p" cx="445" cy="482" r="6"/></g>
<g id="n-p34"><circle class="p" cx="578" cy="474" r="6"/></g>
<g id="n-p35"><circle class="p" cx="501" cy="533" r="6"/></g>
<g id="n-p36"><circle class="p" cx="293" cy="523" r="19" style="stroke:#74497a;stroke-width:3"/></g>
<g id="n-p37"><circle class="p" cx="336" cy="548" r="6"/></g>
<g id="n-p38"><circle class="p" cx="344" cy="586" r="14" style="stroke:#74497a;stroke-width:2.5"/></g>
<g id="n-p39"><circle class="p" cx="394" cy="577" r="8"/></g>
<g id="n-p40"><circle class="p" cx="86" cy="533" r="6"/></g>
<g id="n-p41"><circle class="p" cx="197" cy="578" r="6"/></g>
<g id="n-p42"><circle class="p" cx="410" cy="613" r="6"/></g>
<g id="n-p43"><circle class="p" cx="468" cy="617" r="6"/></g>
<g id="n-p44"><circle class="p" cx="353" cy="627" r="6"/></g>
<g id="n-p45"><circle class="p" cx="442" cy="647" r="8"/></g>
<g id="n-p46"><circle class="p" cx="336" cy="671" r="6"/></g>
<g id="n-p47"><circle class="p" cx="392" cy="666" r="6"/></g>
<g id="n-p48"><circle class="p" cx="468" cy="668" r="6"/></g>
<g id="n-p49"><circle class="p" cx="298" cy="698" r="6"/></g>
<g id="n-p50"><circle class="p" cx="368" cy="719" r="6"/></g>
<g id="n-p51"><circle class="p" cx="334" cy="730" r="6"/></g>
<g id="n-p52"><circle class="p" cx="320" cy="762" r="6"/></g>
<g id="n-p53"><circle class="p" cx="464" cy="812" r="6"/></g>
<g id="n-p54"><circle class="p" cx="859" cy="699" r="6"/></g>

<g id="n-y1"><circle class="y" cx="313" cy="283" r="18" style="stroke:#85850a;stroke-width:3"/></g>
<g id="n-y2"><circle class="y" cx="270" cy="349" r="14" style="stroke:#85850a;stroke-width:2.5"/></g>
<g id="n-y3"><circle class="y" cx="96" cy="160" r="6"/></g>
<g id="n-y4"><circle class="y" cx="256" cy="235" r="5"/></g>
<g id="n-y5"><circle class="y" cx="283" cy="245" r="6"/></g>
<g id="n-y6"><circle class="y" cx="230" cy="267" r="6"/></g>
<g id="n-y7"><circle class="y" cx="351" cy="274" r="5"/></g>
<g id="n-y8"><circle class="y" cx="294" cy="329" r="5"/></g>
<g id="n-y9"><circle class="y" cx="172" cy="329" r="6"/></g>
<g id="n-y10"><circle class="y" cx="204" cy="341" r="6"/></g>
<g id="n-y11"><circle class="y" cx="270" cy="398" r="6"/></g>
<g id="n-y12"><circle class="y" cx="306" cy="424" r="6"/></g>
<g id="n-y13"><circle class="y" cx="337" cy="449" r="5"/></g>
<g id="n-y14"><circle class="y" cx="283" cy="457" r="5"/></g>
<g id="n-y15"><circle class="y" cx="418" cy="484" r="6"/></g>
<g id="n-y16"><circle class="y" cx="373" cy="502" r="6"/></g>
<g id="n-y17"><circle class="y" cx="616" cy="456" r="6"/></g>
<g id="n-y18"><circle class="y" cx="500" cy="563" r="6"/></g>
<g id="n-y19"><circle class="y" cx="591" cy="625" r="7"/></g>
<g id="n-y20"><circle class="y" cx="737" cy="638" r="6"/></g>
<g id="n-y21"><circle class="y" cx="869" cy="571" r="6"/></g>

<g id="n-k1"><circle class="k" cx="272" cy="312" r="13" style="stroke:#555;stroke-width:2.5"/></g>
<g id="n-k2"><circle class="k" cx="239" cy="331" r="10" style="stroke:#555;stroke-width:1.5"/></g>
<g id="n-k3"><circle class="k" cx="271" cy="215" r="6"/></g>
<g id="n-k4"><circle class="k" cx="433" cy="146" r="6"/></g>
<g id="n-k5"><circle class="k" cx="381" cy="270" r="6"/></g>
<g id="n-k6"><circle class="k" cx="307" cy="318" r="5"/></g>
<g id="n-k7"><circle class="k" cx="490" cy="264" r="6"/></g>
<g id="n-k8"><circle class="k" cx="545" cy="318" r="6"/></g>
<g id="n-k9"><circle class="k" cx="512" cy="337" r="6"/></g>
<g id="n-k10"><circle class="k" cx="280" cy="424" r="7"/></g>
<g id="n-k11"><circle class="k" cx="325" cy="423" r="6"/></g>
<g id="n-k12"><circle class="k" cx="380" cy="474" r="8"/></g>
<g id="n-k13"><circle class="k" cx="406" cy="464" r="6"/></g>
<g id="n-k14"><circle class="k" cx="472" cy="536" r="6"/></g>
<g id="n-k15"><circle class="k" cx="449" cy="555" r="6"/></g>
<g id="n-k16"><circle class="k" cx="17" cy="475" r="6"/></g>
<g id="n-k17"><circle class="k" cx="147" cy="582" r="6"/></g>

<g id="n-l1"><circle class="l" cx="370" cy="213" r="20" style="stroke:#4a6894;stroke-width:3"/></g>
<g id="n-l2"><circle class="l" cx="263" cy="277" r="13" style="stroke:#4a6894;stroke-width:2.5"/></g>
<g id="n-l3"><circle class="l" cx="252" cy="593" r="16" style="stroke:#3f5f8c;stroke-width:2.5"/></g>
<g id="n-l4"><circle class="l" cx="316" cy="394" r="10" style="stroke-width:1.5"/></g>
<g id="n-l5"><circle class="l" cx="346" cy="516" r="10" style="stroke-width:1.5"/></g>
<g id="n-l6"><circle class="l" cx="92" cy="207" r="6"/></g>
<g id="n-l7"><circle class="l" cx="218" cy="302" r="6"/></g>
<g id="n-l8"><circle class="l" cx="65" cy="336" r="6"/></g>
<g id="n-l9"><circle class="l" cx="145" cy="341" r="6"/></g>
<g id="n-l10"><circle class="l" cx="88" cy="392" r="6"/></g>
<g id="n-l11"><circle class="l" cx="367" cy="282" r="5"/></g>
<g id="n-l12"><circle class="l" cx="297" cy="373" r="6"/></g>
<g id="n-l13"><circle class="l" cx="288" cy="395" r="6"/></g>
<g id="n-l14"><circle class="l" cx="299" cy="469" r="6"/></g>
<g id="n-l15"><circle class="l" cx="459" cy="345" r="6"/></g>
<g id="n-l16"><circle class="l" cx="482" cy="403" r="6"/></g>
<g id="n-l17"><circle class="l" cx="203" cy="552" r="6"/></g>
<g id="n-l18"><circle class="l" cx="176" cy="617" r="6"/></g>

<g id="n-b1"><circle class="b" cx="716" cy="183" r="16" style="stroke-width:2"/></g>
<g id="n-b2"><circle class="b" cx="650" cy="93" r="10"/></g>
<g id="n-b3"><circle class="b" cx="619" cy="136" r="6"/></g>
<g id="n-b4"><circle class="b" cx="396" cy="122" r="6"/></g>
<g id="n-b5"><circle class="b" cx="426" cy="122" r="6"/></g>
<g id="n-b6"><circle class="b" cx="432" cy="191" r="6"/></g>
<g id="n-b7"><circle class="b" cx="87" cy="182" r="6"/></g>
<g id="n-b8"><circle class="b" cx="202" cy="190" r="6"/></g>
<g id="n-b9"><circle class="b" cx="329" cy="196" r="6"/></g>
<g id="n-b10"><circle class="b" cx="303" cy="223" r="6"/></g>
<g id="n-b11"><circle class="b" cx="242" cy="246" r="6"/></g>
<g id="n-b12"><circle class="b" cx="346" cy="249" r="6"/></g>
<g id="n-b13"><circle class="b" cx="394" cy="248" r="6"/></g>
<g id="n-b14"><circle class="b" cx="384" cy="286" r="6"/></g>
<g id="n-b15"><circle class="b" cx="354" cy="294" r="6"/></g>
<g id="n-b16"><circle class="b" cx="422" cy="290" r="6"/></g>
<g id="n-b17"><circle class="b" cx="364" cy="310" r="6"/></g>
<g id="n-b18"><circle class="b" cx="195" cy="319" r="6"/></g>
<g id="n-b19"><circle class="b" cx="458" cy="307" r="8"/></g>
<g id="n-b20"><circle class="b" cx="488" cy="316" r="8"/></g>
<g id="n-b21"><circle class="b" cx="526" cy="272" r="12" style="stroke-width:1.5"/></g>
<g id="n-b22"><circle class="b" cx="588" cy="275" r="7"/></g>
<g id="n-b23"><circle class="b" cx="580" cy="306" r="10"/></g>
<g id="n-b24"><circle class="b" cx="645" cy="335" r="9"/></g>
<g id="n-b25"><circle class="b" cx="589" cy="341" r="6"/></g>
<g id="n-b26"><circle class="b" cx="544" cy="369" r="10" style="stroke-width:1.5"/></g>
<g id="n-b27"><circle class="b" cx="589" cy="373" r="6"/></g>
<g id="n-b28"><circle class="b" cx="481" cy="379" r="10" style="stroke-width:1.5"/></g>
<g id="n-b29"><circle class="b" cx="575" cy="395" r="6"/></g>
<g id="n-b30"><circle class="b" cx="515" cy="403" r="8"/></g>
<g id="n-b31"><circle class="b" cx="481" cy="461" r="12" style="stroke-width:1.5"/></g>
<g id="n-b32"><circle class="b" cx="481" cy="503" r="11" style="stroke-width:1.5"/></g>
<g id="n-b33"><circle class="b" cx="556" cy="500" r="9"/></g>
<g id="n-b34"><circle class="b" cx="516" cy="507" r="6"/></g>
<g id="n-b35"><circle class="b" cx="579" cy="528" r="7"/></g>
<g id="n-b36"><circle class="b" cx="644" cy="495" r="6"/></g>
<g id="n-b37"><circle class="b" cx="647" cy="536" r="6"/></g>
<g id="n-b38"><circle class="b" cx="694" cy="485" r="6"/></g>
<g id="n-b39"><circle class="b" cx="732" cy="462" r="6"/></g>
<g id="n-b40"><circle class="b" cx="319" cy="371" r="5"/></g>
<g id="n-b41"><circle class="b" cx="359" cy="464" r="6"/></g>
<g id="n-b42"><circle class="b" cx="160" cy="684" r="6"/></g>
<g id="n-b43"><circle class="b" cx="566" cy="703" r="6"/></g>
<g id="n-b44"><circle class="b" cx="442" cy="751" r="6"/></g>

<g id="n-g1"><circle class="g" cx="649" cy="400" r="17" style="stroke:#2a7a20;stroke-width:3"/></g>
<g id="n-g2"><circle class="g" cx="487" cy="428" r="5"/></g>
<g id="n-g3"><circle class="g" cx="444" cy="454" r="6"/></g>
<g id="n-g4"><circle class="g" cx="519" cy="467" r="6"/></g>
<g id="n-g5"><circle class="g" cx="337" cy="470" r="5"/></g>
<g id="n-g6"><circle class="g" cx="548" cy="562" r="9"/></g>
<g id="n-g7"><circle class="g" cx="606" cy="559" r="6"/></g>
<g id="n-g8"><circle class="g" cx="657" cy="581" r="6"/></g>
<g id="n-g9"><circle class="g" cx="585" cy="587" r="6"/></g>
<g id="n-g10"><circle class="g" cx="624" cy="595" r="6"/></g>
<g id="n-g11"><circle class="g" cx="633" cy="625" r="6"/></g>
<g id="n-g12"><circle class="g" cx="683" cy="658" r="6"/></g>
<g id="n-g13"><circle class="g" cx="838" cy="515" r="6"/></g>
<g id="n-g14"><circle class="g" cx="840" cy="641" r="6"/></g>
<g id="n-g15"><circle class="g" cx="876" cy="644" r="6"/></g>
<g id="n-g16"><circle class="g" cx="863" cy="667" r="6"/></g>
<g id="n-g17"><circle class="g" cx="896" cy="663" r="6"/></g>
<g id="n-g18"><circle class="g" cx="840" cy="680" r="6"/></g>
<g id="n-g19"><circle class="g" cx="887" cy="690" r="6"/></g>
<g id="n-g20"><circle class="g" cx="164" cy="557" r="6"/></g>
<g id="n-g21"><circle class="g" cx="124" cy="569" r="6"/></g>
<g id="n-g22"><circle class="g" cx="173" cy="579" r="6"/></g>
<g id="n-g23"><circle class="g" cx="145" cy="614" r="6"/></g>
<g id="n-g24"><circle class="g" cx="177" cy="651" r="6"/></g>
<g id="n-g25"><circle class="g" cx="191" cy="667" r="6"/></g>
<g id="n-g26"><circle class="g" cx="191" cy="694" r="6"/></g>
<g id="n-g27"><circle class="g" cx="233" cy="683" r="6"/></g>
<g id="n-g28"><circle class="g" cx="215" cy="735" r="6"/></g>
<g id="n-g29"><circle class="g" cx="293" cy="568" r="6"/></g>
<g id="n-g30"><circle class="g" cx="264" cy="648" r="6"/></g>
<g id="n-g31"><circle class="g" cx="383" cy="621" r="6"/></g>

<g id="n-o1"><circle class="o" cx="622" cy="194" r="20" style="stroke:#6b4500;stroke-width:3"/></g>
<g id="n-o2"><circle class="o" cx="681" cy="148" r="12" style="stroke-width:1.5"/></g>
<g id="n-o3"><circle class="o" cx="612" cy="250" r="10"/></g>
<g id="n-o4"><circle class="o" cx="598" cy="92" r="6"/></g>
<g id="n-o5"><circle class="o" cx="585" cy="147" r="7"/></g>
<g id="n-o6"><circle class="o" cx="541" cy="123" r="7"/></g>
<g id="n-o7"><circle class="o" cx="510" cy="104" r="6"/></g>
<g id="n-o8"><circle class="o" cx="452" cy="168" r="6"/></g>
<g id="n-o9"><circle class="o" cx="580" cy="242" r="7"/></g>
<g id="n-o10"><circle class="o" cx="648" cy="241" r="7"/></g>
<g id="n-o11"><circle class="o" cx="749" cy="124" r="6"/></g>
<g id="n-o12"><circle class="o" cx="760" cy="154" r="6"/></g>
<g id="n-o13"><circle class="o" cx="365" cy="262" r="5"/></g>
<g id="n-o14"><circle class="o" cx="575" cy="749" r="6"/></g>

<g id="n-r9"><circle class="r" cx="143" cy="188" r="6"/></g>
<g id="n-r10"><circle class="r" cx="326" cy="329" r="8"/></g>
<g id="n-r11"><circle class="r" cx="397" cy="307" r="5"/></g>
<g id="n-r12"><circle class="r" cx="319" cy="354" r="5"/></g>
<g id="n-r13"><circle class="r" cx="461" cy="431" r="5"/></g>
<g id="n-r14"><circle class="r" cx="296" cy="446" r="6"/></g>
<g id="n-r15"><circle class="r" cx="317" cy="458" r="5"/></g>
<g id="n-r16"><circle class="r" cx="278" cy="479" r="6"/></g>
<g id="n-r6"><circle class="r" cx="401" cy="171" r="9" style="stroke-width:1.5"/></g>
<g id="n-r7"><circle class="r" cx="556" cy="445" r="11" style="stroke-width:1.5"/></g>
<g id="n-r8"><circle class="r" cx="408" cy="525" r="11" style="stroke-width:1.5"/></g>
<g id="n-r5"><circle class="r" cx="433" cy="240" r="16" style="stroke:#7a0d0d;stroke-width:2"/></g>
<g id="n-r3"><circle class="r" cx="176" cy="253" r="26" style="stroke:#7a0d0d;stroke-width:3"/></g>
<g id="n-r4"><circle class="r" cx="526" cy="195" r="26" style="stroke:#7a0d0d;stroke-width:3"/></g>
<g id="n-r2"><circle class="r" cx="392" cy="383" r="36" style="stroke:#7a0d0d;stroke-width:5"/></g>
<g id="n-r1"><circle class="r" cx="185" cy="445" r="46" style="stroke:#7a0d0d;stroke-width:7"/></g>
</g>

<g id="legend">
<rect x="730" y="195" width="260" height="250" fill="#ffffff" stroke="#222" stroke-width="1.5"/>
<circle class="o" cx="750" cy="216" r="11.5"/><text class="lt" x="770" y="223">Frühkindliche Bildung</text>
<circle class="g" cx="750" cy="245" r="11.5"/><text class="lt" x="770" y="252">Schule</text>
<circle class="p" cx="750" cy="274" r="11.5"/><text class="lt" x="770" y="281">Hochschule</text>
<circle class="y" cx="750" cy="304" r="11.5"/><text class="lt" x="770" y="311">Verein/Verband/NGO</text>
<circle class="b" cx="750" cy="333" r="11.5"/><text class="lt" x="770" y="340">Kommune</text>
<circle class="k" cx="750" cy="362" r="11.5"/><text class="lt" x="770" y="369">Bund/Land</text>
<circle class="l" cx="750" cy="391" r="11.5"/><text class="lt" x="770" y="398">Stiftung</text>
<circle class="r" cx="750" cy="420" r="11.5"/><text class="lt" x="770" y="427">RuhrFutur Geschäftsst</text>
</g>

<text x="35" y="874" font-family="Open Sans, Liberation Sans, sans-serif" font-size="25" fill="#606060" textLength="648" lengthAdjust="spacing">Abbildung 4: Darstellung des Netzwerks RuhrFutur</text>
</svg>
